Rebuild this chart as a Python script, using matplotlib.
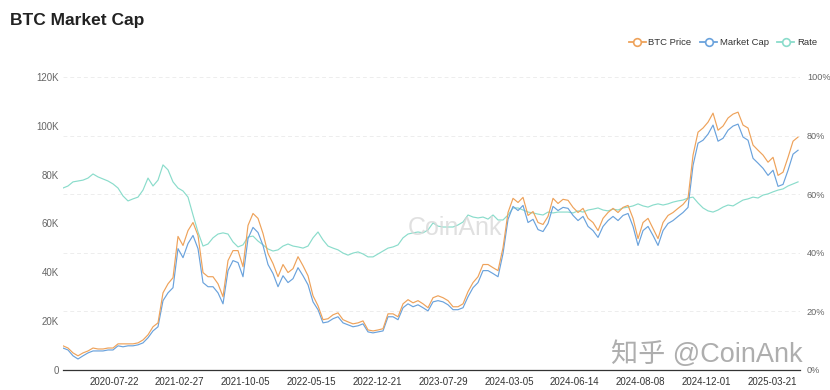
import numpy as np
import matplotlib.pyplot as plt
from matplotlib.lines import Line2D

plt.rcParams['font.family'] = ['Liberation Sans', 'Noto Sans CJK SC', 'DejaVu Sans']

# sampled evenly along the category axis, price and cap in thousands, rate in %
btc_price = [
    9.9, 9.0, 7.0, 5.8, 7.0, 7.8, 9.0, 8.6, 8.6, 9.0, 9.0, 10.7, 10.7, 10.7, 10.7, 11.1,
    12.3, 14.4, 17.7, 19.3, 31.6, 35.3, 37.8, 54.7, 51.0, 57.1,
    60.4, 55.1, 39.9, 38.2, 38.2, 35.3, 30.0, 44.8, 48.9, 48.9, 42.3, 59.2, 64.1, 62.1,
    55.9, 47.7, 43.6, 38.2, 43.2, 39.9, 41.5, 46.4, 42.7, 38.6, 30.4,
    26.3, 20.6, 21.0, 22.6, 23.4, 20.6, 19.7, 18.9, 19.3, 20.1, 16.4, 16.0, 16.4, 16.9,
    23.0, 23.0, 21.8, 27.1, 28.8, 27.5, 28.4, 27.1, 25.5, 29.6, 30.4,
    29.6, 28.4, 25.9, 25.9, 27.1, 32.1, 35.8, 38.2, 43.2, 43.2, 41.9, 40.7, 50.1, 64.5,
    70.3, 68.6, 70.7, 63.3, 64.9, 60.4, 59.6, 62.9, 70.3, 68.2, 69.9,
    69.5, 66.6, 64.5, 66.2, 62.1, 60.4, 57.1, 62.1, 64.5, 66.2, 64.5, 66.6, 67.4, 62.1,
    53.8, 60.4, 62.1, 58.0, 53.8, 60.4, 63.3, 64.5, 66.2, 67.8, 70.3, 88.0, 97.4, 99.1,
    101.5, 105.2, 98.2, 99.9, 103.2, 104.8, 105.6, 100.3, 99.1, 92.1, 90.0, 88.0, 85.1,
    87.1, 79.7, 81.0, 87.1, 93.7, 95.4,
]
market_cap = [
    9.0, 8.2, 5.8, 4.5, 5.8, 7.0, 7.8, 7.8, 7.8, 8.2, 8.2, 9.9, 9.5, 9.9, 9.9, 10.3,
    11.1, 13.2, 16.0, 17.7, 28.4, 31.6, 33.7, 49.7, 46.0, 51.8,
    55.1, 49.7, 35.8, 34.1, 34.1, 31.6, 27.1, 40.7, 44.8, 44.0, 38.2, 53.8, 58.4, 56.3,
    51.0, 43.2, 39.5, 34.1, 38.6, 35.8, 37.4, 41.9, 38.6, 34.9, 27.9,
    24.7, 19.3, 19.7, 21.0, 21.8, 19.3, 18.5, 17.7, 18.1, 18.9, 15.6, 15.2, 15.6, 16.0,
    21.8, 21.8, 20.6, 25.5, 27.1, 25.9, 26.7, 25.5, 24.2, 27.9, 28.4,
    27.9, 26.7, 24.7, 24.7, 25.5, 30.0, 33.7, 35.8, 40.7, 40.7, 39.5, 38.2, 47.7, 61.7,
    67.0, 65.3, 67.4, 60.4, 61.7, 57.5, 56.7, 60.0, 67.0, 65.3, 66.6,
    66.2, 63.3, 61.2, 62.9, 58.8, 57.1, 54.3, 58.8, 61.2, 62.9, 61.2, 63.3, 64.1, 58.8,
    51.0, 57.1, 58.8, 55.1, 51.0, 57.1, 60.0, 61.2, 62.9, 64.5, 66.6, 83.8, 92.9, 94.1,
    96.6, 100.3, 93.7, 94.9, 98.2, 99.9, 100.7, 95.4, 94.1, 86.7, 84.7, 82.6, 79.7,
    81.8, 75.2, 76.0, 81.8, 88.4, 90.0,
]
rate = [
    62.1, 62.8, 64.2, 64.5, 64.8, 65.5, 66.9, 65.9, 65.2, 64.5, 63.5, 62.1, 59.4, 57.7,
    58.4, 59.0, 61.4, 65.5, 62.8, 64.8, 70.0, 68.3, 64.2, 62.1, 61.1, 59.0,
    52.9, 47.1, 42.3, 43.0, 45.1, 46.4, 46.8, 46.4, 43.7, 42.0, 42.7, 45.4, 45.7, 44.0,
    42.7, 41.3, 40.6, 41.0, 42.3, 43.0, 42.3, 42.0, 41.6, 42.3, 45.1,
    47.1, 44.4, 42.3, 41.6, 41.0, 39.9, 39.2, 39.9, 40.3, 39.6, 38.6, 38.6, 39.6, 40.6,
    41.6, 42.0, 42.7, 45.1, 46.4, 46.8, 47.1, 46.8, 47.8, 50.2, 49.1,
    48.8, 48.8, 48.8, 49.5, 50.5, 52.9, 52.2, 51.9, 52.2, 51.5, 52.9, 51.2, 51.2, 52.9,
    55.3, 55.3, 54.6, 53.9, 53.6, 53.2, 52.9, 53.9, 53.6, 53.9, 53.9,
    53.9, 53.6, 54.3, 53.9, 54.6, 54.9, 55.3, 54.6, 54.3, 54.9, 54.6, 55.3, 55.6, 56.0,
    56.7, 56.0, 55.6, 56.3, 56.7, 56.3, 56.7, 57.3, 57.7, 58.0, 58.7, 59.0, 57.0, 55.3,
    54.3, 53.9, 54.6, 55.6, 56.3, 56.0, 57.0, 58.0, 58.4, 59.0, 58.7, 59.7, 60.1, 60.8,
    61.4, 61.8, 62.8, 63.5, 64.2,
]
date_labels = ['2020-07-22', '2021-02-27', '2021-10-05', '2022-05-15', '2022-12-21',
               '2023-07-29', '2024-03-05', '2024-06-14', '2024-08-08', '2024-12-01',
               '2025-03-21']

c_price = '#eea25a'
c_cap = '#6aa2dc'
c_rate = '#8adccb'

x = np.arange(len(btc_price))
tick_pos = 10.2 + 13.16 * np.arange(len(date_labels))

fig = plt.figure(figsize=(8.3, 3.9), dpi=100)
ax2 = fig.add_axes([0.0759, 0.0513, 0.888, 0.7513])
ax = ax2.twinx()
ax.set_zorder(3)
ax.patch.set_visible(False)
ax.yaxis.tick_left()

# right axis: rate + grid
ax2.plot(x, rate, color=c_rate, lw=0.85)
ax2.set_ylim(0, 100)
ax2.set_yticks(range(0, 101, 20))
ax2.set_yticklabels([f'{v}%' for v in range(0, 101, 20)])
ax2.yaxis.tick_right()
ax2.grid(axis='y', color='#ededed', lw=0.7, ls=(0, (4, 3)))
ax2.set_axisbelow(True)

# left axis: price and cap
ax.plot(x, market_cap, color=c_cap, lw=0.85)
ax.plot(x, btc_price, color=c_price, lw=0.85)
ax.set_ylim(0, 120)
ax.set_yticks(range(0, 121, 20))
ax.set_yticklabels(['0'] + [f'{v}K' for v in range(20, 121, 20)])

ax2.set_xlim(0, len(x) - 0.6)
ax2.set_xticks(tick_pos)
ax2.set_xticklabels(date_labels)

for a in (ax, ax2):
    for s in ('top', 'left', 'right', 'bottom'):
        a.spines[s].set_visible(False)
    a.tick_params(axis='y', length=0, labelsize=7, colors='#666666')
ax.tick_params(axis='y', pad=3)
ax2.tick_params(axis='y', pad=5, labelsize=6.6)
ax2.tick_params(axis='x', length=0, labelsize=7, colors='#333333', pad=5)
ax2.spines['bottom'].set_visible(True)
ax2.spines['bottom'].set_color('#333333')
ax2.spines['bottom'].set_linewidth(0.9)

fig.text(0.012, 0.948, 'BTC Market Cap', fontsize=12.5, fontweight='bold',
         color='#222222', va='center')

handles = [Line2D([], [], color=c, lw=1.3, marker='o', markersize=5.5,
                  markerfacecolor='white', markeredgewidth=1.2)
           for c in (c_price, c_cap, c_rate)]
fig.legend(handles, ['BTC Price', 'Market Cap', 'Rate'], loc='center right',
           bbox_to_anchor=(0.995, 0.89), ncol=3, frameon=False, fontsize=6.8,
           handlelength=1.8, handletextpad=0.3, columnspacing=0.9,
           labelcolor='#333333')

# watermarks
fig.text(0.548, 0.415, 'CoinAnk', fontsize=18, color='#d9d9d9', alpha=0.8,
         ha='center', va='center', zorder=0)
fig.text(0.851, 0.09, '知乎 @CoinAnk', fontsize=19.5, color='#a0a0a0', alpha=0.85,
         ha='center', va='center')

fig.savefig('out.png', dpi=100)
